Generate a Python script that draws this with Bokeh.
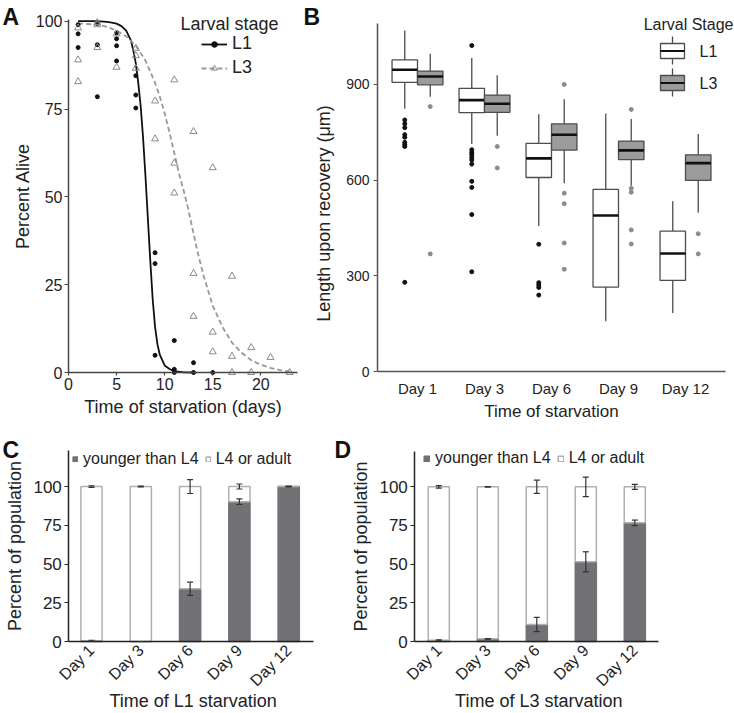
import math
from bokeh.plotting import figure
from bokeh.layouts import row, column
from bokeh.models import (Range1d, FixedTicker, Label, Legend, LegendItem,
                          ColumnDataSource, Whisker, TeeHead)
from bokeh.embed import file_html
from bokeh.resources import INLINE

FONT = "Liberation Sans"
TXT = "#222222"

# ---------------- Panel A: survival ----------------
surv_days_l1 = [1, 1, 1, 3, 3, 3, 5, 5, 5, 5, 7, 7, 7, 9, 9, 9, 11, 11, 11, 13, 13, 15]
surv_pct_l1 = [99.0, 96.4, 92.5, 99.4, 93.3, 78.5, 96.7, 95.0, 93.0, 88.7, 84.5, 79.0, 75.3,
               34.1, 31.0, 4.9, 9.1, 0.9, 0.0, 2.8, 0.0, 0.0]
surv_days_l3 = [1, 1, 1, 3, 3, 3, 5, 5, 7, 7, 7, 9, 9, 11, 11, 11, 13, 13, 13, 15, 15, 15,
                17, 17, 17, 19, 19, 21, 23]
surv_pct_l3 = [98.1, 89.0, 82.8, 99.6, 99.0, 92.5, 96.4, 86.9, 92.3, 90.2, 86.6, 77.3, 66.5,
               83.3, 59.6, 51.1, 68.6, 28.2, 16.0, 58.3, 11.5, 5.9, 27.4, 4.6, 0.0, 7.1, 0.0,
               4.3, 0.0]
fit_days_l1 = [1, 2, 3, 4, 4.5, 5, 5.5, 6, 6.5, 6.75, 7, 7.25, 7.5, 7.75, 8, 8.25, 8.5, 8.75,
               9, 9.25, 9.5, 10, 10.5, 11, 12, 13]
fit_pct_l1 = [100, 100, 100, 99.8, 99.6, 99.3, 98.6, 97.3, 94.5, 91.5, 88.0, 82.5, 76.0, 67.0,
              56.0, 44.0, 32.0, 21.0, 13.0, 8.0, 5.0, 2.0, 1.0, 0.4, 0.05, 0.0]
fit_days_l3 = [1, 2, 3, 4, 5, 6, 7, 8, 9, 9.5, 10, 10.5, 11, 11.5, 12, 12.5, 13, 13.5, 14, 15,
               16, 17, 18, 19, 20, 21, 22, 23]
fit_pct_l3 = [99.4, 99.2, 99.0, 98.4, 97.3, 95.7, 93.0, 88.8, 82.5, 78.5, 73.8, 68.3, 62.5,
              56.5, 51.5, 46.0, 39.5, 33.5, 28.0, 19.0, 13.0, 8.5, 5.6, 3.5, 2.2, 1.3, 0.7, 0.3]
a_xticks = [0, 5, 10, 15, 20]
a_yticks = [0, 25, 50, 75, 100]

# ---------------- Panel B: length boxplots ----------------
b_days = ["Day 1", "Day 3", "Day 6", "Day 9", "Day 12"]
l1_q1 = [906, 811, 608, 265, 286]
l1_med = [945, 850, 668, 489, 370]
l1_q3 = [976, 887, 715, 571, 440]
l1_lo = [823, 713, 456, 158, 184]
l1_hi = [1068, 982, 806, 808, 534]
l3_q1 = [898, 812, 694, 664, 599]
l3_med = [924, 839, 742, 693, 653]
l3_q3 = [941, 866, 776, 722, 679]
l3_lo = [861, 739, 590, 582, 498]
l3_hi = [995, 928, 853, 791, 744]
l1_out_day = ["Day 1"] * 9 + ["Day 3"] * 11 + ["Day 6"] * 5
l1_out_val = [788, 776, 764, 742, 734, 718, 711, 705, 280,
              1021, 695, 687, 680, 671, 663, 650, 596, 577, 492, 313,
              399, 279, 272, 264, 240]
l3_out_day = ["Day 1"] * 2 + ["Day 3"] * 2 + ["Day 6"] * 5 + ["Day 9"] * 5 + ["Day 12"] * 2
l3_out_val = [830, 369, 705, 638, 899, 559, 526, 403, 321, 821, 574, 562, 444, 400, 432, 369]
b_yticks = [0, 300, 600, 900]

# ---------------- Panels C, D: developmental stage ----------------
stage_days = ["Day 1", "Day 3", "Day 6", "Day 9", "Day 12"]
l1_younger = [0.5, 0.0, 34.0, 90.2, 100.0]
l1_younger_err = [0.3, 0.0, 4.3, 1.8, 0.0]
l1_adult = [99.5, 100.0, 66.0, 9.8, 0.0]
l1_adult_err = [0.5, 0.3, 4.5, 1.6, 0.3]
l3_younger = [0.8, 1.7, 11.0, 51.5, 76.7]
l3_younger_err = [0.3, 0.2, 4.6, 6.5, 1.8]
l3_adult = [99.2, 98.3, 89.0, 48.5, 23.3]
l3_adult_err = [0.8, 0.2, 4.3, 6.3, 1.6]
cd_yticks = [0, 25, 50, 75, 100]

GREY_BAR = "#727276"
L3_BOX = "#9b9b9b"
BOX_LINE = "#4d4d4d"


class PageMap:
    """Maps page pixel positions of one figure (whose frame fills the figure) to data units."""
    def __init__(self, fx, fy, w, h, xpage, xval, xppu, ypage, yval, yppu):
        self.fx, self.fy, self.w, self.h = fx, fy, w, h
        self.xpage, self.xval, self.xppu = xpage, xval, xppu
        self.ypage, self.yval, self.yppu = ypage, yval, yppu

    def x(self, px):
        return self.xval + (px - self.xpage) / self.xppu

    def y(self, py):
        return self.yval + (self.ypage - py) / self.yppu

    def xr(self):
        return Range1d(self.x(self.fx), self.x(self.fx + self.w))

    def yr(self):
        return Range1d(self.y(self.fy + self.h), self.y(self.fy))


def make_fig(m):
    p = figure(width=m.w, height=m.h, x_range=m.xr(), y_range=m.yr(), output_backend="svg",
               toolbar_location=None, min_border=0)
    p.grid.visible = False
    p.outline_line_color = None
    p.background_fill_color = "white"
    p.border_fill_color = "white"
    return p


def style(p, axis_color, tick_size, label_size):
    for ax in list(p.xaxis) + list(p.yaxis):
        ax.axis_line_color = axis_color
        ax.axis_line_width = 1.5
        ax.major_tick_line_color = axis_color
        ax.major_tick_line_width = 1.2
        ax.major_tick_in = 0
        ax.major_tick_out = 4
        ax.minor_tick_line_color = None
        ax.major_label_text_font = FONT
        ax.major_label_text_font_size = tick_size
        ax.major_label_text_color = TXT
        ax.axis_label_text_font = FONT
        ax.axis_label_text_font_size = label_size
        ax.axis_label_text_font_style = "normal"
        ax.axis_label_text_color = TXT


def text(p, m, s, px, py, size, align="left", baseline="middle", bold=False):
    p.add_layout(Label(x=m.x(px), y=m.y(py), text=s, text_font=FONT, text_font_size=size,
                       text_font_style="bold" if bold else "normal",
                       text_color="#111111" if bold else TXT,
                       text_align=align, text_baseline=baseline))


# ================= Panel A =================
ma = PageMap(0, 0, 300, 430, 68, 0, 9.617, 372, 0, 3.513)
pA = make_fig(ma)
style(pA, "#444444", "16px", "18px")
pA.xaxis.fixed_location = 0
pA.yaxis.fixed_location = 0
pA.xaxis.bounds = (0, 23.8)
pA.yaxis.bounds = (0, 100.5)
pA.xaxis.ticker = FixedTicker(ticks=a_xticks)
pA.yaxis.ticker = FixedTicker(ticks=a_yticks)
pA.xaxis.major_tick_out = 3
pA.xaxis.major_label_standoff = 2
pA.yaxis.major_label_standoff = 2
pA.xaxis.axis_label = "Time of starvation (days)"
pA.yaxis.axis_label = "Percent Alive"
pA.xaxis.axis_label_standoff = 4
pA.yaxis.axis_label_standoff = 0

l1_line = pA.line(fit_days_l1, fit_pct_l1, line_color="#111111", line_width=1.8)
l3_line = pA.line(fit_days_l3, fit_pct_l3, line_color="#999999", line_width=1.8, line_dash="5 3")
l1_pts = pA.scatter(surv_days_l1, surv_pct_l1, size=4, fill_color="#111111", line_color="#111111")
l3_pts = pA.scatter(surv_days_l3, surv_pct_l3, marker="triangle", size=7, fill_color=None,
                    line_color="#8a8a8a", line_width=1)
legA = Legend(items=[LegendItem(label="L1", renderers=[l1_line, l1_pts]),
                     LegendItem(label="L3", renderers=[l3_line, l3_pts])],
              location=(201, 352), glyph_width=26, glyph_height=14, label_height=20,
              spacing=3, label_standoff=5, padding=0, margin=0,
              label_text_font=FONT, label_text_font_size="18px", label_text_color=TXT,
              border_line_color=None, background_fill_alpha=0)
pA.add_layout(legA)
text(pA, ma, "Larval stage", 180, 23, "18px")
text(pA, ma, "A", 2, 3, "23px", baseline="top", bold=True)

# ================= Panel B =================
mb = PageMap(300, 0, 434, 430, 417, 0, 67.0, 371.3, 0, 0.31956)
pB = make_fig(mb)
style(pB, "#555555", "14px", "17px")
b_pos = list(range(len(b_days)))
pB.xaxis.fixed_location = 0
pB.yaxis.fixed_location = mb.x(377)
pB.xaxis.bounds = (mb.x(377), mb.x(725))
pB.yaxis.bounds = (0, 1090)
pB.xaxis.ticker = FixedTicker(ticks=b_pos)
pB.xaxis.major_label_overrides = {i: d for i, d in zip(b_pos, b_days)}
pB.xaxis.major_label_text_font_size = "15px"
pB.xaxis.major_tick_line_color = None
pB.xaxis.major_label_standoff = 4
pB.yaxis.ticker = FixedTicker(ticks=b_yticks)
pB.yaxis.major_label_standoff = 4
pB.xaxis.axis_label = "Time of starvation"
pB.xaxis.axis_label_standoff = 2
# y title placed where the reference shows it (slightly below the axis centre)
pB.yaxis.axis_label = None
pB.add_layout(Label(x=mb.x(323), y=mb.y(213), text="Length upon recovery (μm)",
                    text_font=FONT, text_font_size="18px", text_color=TXT,
                    text_align="center", text_baseline="middle", angle=math.pi / 2))

half = 0.19
bw = 0.38
for off, q1, med, q3, lo, hi, fill in ((-half, l1_q1, l1_med, l1_q3, l1_lo, l1_hi, "white"),
                                       (half, l3_q1, l3_med, l3_q3, l3_lo, l3_hi, L3_BOX)):
    xs = [i + off for i in b_pos]
    pB.segment(x0=xs, x1=xs, y0=q3, y1=hi, line_color=BOX_LINE, line_width=1.3)
    pB.segment(x0=xs, x1=xs, y0=q1, y1=lo, line_color=BOX_LINE, line_width=1.3)
    pB.vbar(x=xs, width=bw, bottom=q1, top=q3, fill_color=fill, line_color=BOX_LINE,
            line_width=1.3)
    pB.segment(x0=[x - bw / 2 for x in xs], x1=[x + bw / 2 for x in xs], y0=med, y1=med,
               line_color="#111111", line_width=2.6)

day_index = {d: i for i, d in enumerate(b_days)}
pB.scatter([day_index[d] - half for d in l1_out_day], l1_out_val, size=4,
           fill_color="#111111", line_color="#111111")
pB.scatter([day_index[d] + half for d in l3_out_day], l3_out_val, size=4,
           fill_color="#8c8c8c", line_color="#8c8c8c")

# legend of panel B (box icons), page positions
lg_l, lg_r, lg_c = mb.x(660), mb.x(684), mb.x(672)
pB.segment(x0=[lg_c] * 4, x1=[lg_c] * 4,
           y0=[mb.y(36), mb.y(58), mb.y(68), mb.y(90)],
           y1=[mb.y(43), mb.y(64), mb.y(75), mb.y(96)],
           line_color=BOX_LINE, line_width=1.3)
pB.quad(left=[lg_l] * 2, right=[lg_r] * 2, top=[mb.y(43), mb.y(75)],
        bottom=[mb.y(58), mb.y(90)], fill_color=["white", L3_BOX], line_color=BOX_LINE,
        line_width=1.3)
pB.segment(x0=[lg_l] * 2, x1=[lg_r] * 2, y0=[mb.y(50.5), mb.y(82.5)],
           y1=[mb.y(50.5), mb.y(82.5)], line_color="#111111", line_width=2.2)
text(pB, mb, "L1", 699, 50.5, "16px")
text(pB, mb, "L3", 699, 82.5, "16px")
text(pB, mb, "Larval Stage", 733, 23.5, "16px", align="right")
text(pB, mb, "B", 303, 3, "23px", baseline="top", bold=True)


# ================= Panels C and D =================
def stacked(m, younger, younger_err, adult, adult_err, xlabel, left_page, right_page,
            leg_loc, glyph):
    p = make_fig(m)
    style(p, "#222222", "17px", "18px")
    idx = list(range(len(stage_days)))
    p.xaxis.fixed_location = 0
    p.yaxis.fixed_location = m.x(left_page)
    p.xaxis.bounds = (m.x(left_page), m.x(right_page))
    p.yaxis.bounds = (0, 123)
    p.yaxis.ticker = FixedTicker(ticks=cd_yticks)
    p.yaxis.major_label_standoff = 3
    p.xaxis.ticker = FixedTicker(ticks=idx)
    p.xaxis.major_label_overrides = {i: d for i, d in zip(idx, stage_days)}
    p.xaxis.major_tick_line_color = None
    p.xaxis.major_label_orientation = math.pi / 4
    p.xaxis.major_label_text_font_size = "16px"
    p.xaxis.major_label_standoff = 2
    p.xaxis.axis_label = None
    p.yaxis.axis_label = "Percent of population"
    p.yaxis.axis_label_standoff = 5
    # x title placed as text below the rotated tick labels
    text(p, m, xlabel, (left_page + right_page) / 2 + 2, 700, "18px", align="center")
    src = ColumnDataSource(dict(x=idx, younger=younger, adult=adult))
    rs = p.vbar_stack(["younger", "adult"], x="x", width=0.43, source=src,
                      fill_color=[GREY_BAR, "white"], line_color=[GREY_BAR, "#b0b0b0"],
                      line_width=1.5)
    err = ColumnDataSource(dict(
        x=idx,
        y_up=[y + e for y, e in zip(younger, younger_err)],
        y_lo=[y - e for y, e in zip(younger, younger_err)],
        t_up=[y + a + e for y, a, e in zip(younger, adult, adult_err)],
        t_lo=[y + a - e for y, a, e in zip(younger, adult, adult_err)]))
    for up, lo in (("y_up", "y_lo"), ("t_up", "t_lo")):
        p.add_layout(Whisker(base="x", upper=up, lower=lo, source=err, dimension="height",
                             level="annotation", line_color="#333333", line_width=1.2,
                             upper_head=TeeHead(size=6, line_color="#333333", line_width=1.2),
                             lower_head=TeeHead(size=6, line_color="#333333", line_width=1.2)))
    leg = Legend(items=[LegendItem(label="younger than L4", renderers=[rs[0]]),
                        LegendItem(label="L4 or adult", renderers=[rs[1]])],
                 orientation="horizontal", location=leg_loc, glyph_width=glyph,
                 glyph_height=glyph, label_height=20, label_standoff=5, spacing=6,
                 padding=0, margin=0, label_text_font=FONT, label_text_font_size="16px",
                 label_text_color=TXT, border_line_color=None, background_fill_alpha=0)
    p.add_layout(leg)
    return p


mc = PageMap(0, 430, 330, 283, 91, 0, 49.3, 641, 0, 1.55)
pC = stacked(mc, l1_younger, l1_younger_err, l1_adult, l1_adult_err,
             "Time of L1 starvation", 68.3, 313, (72, 244), 6)
text(pC, mc, "C", 2, 436, "23px", baseline="top", bold=True)
md = PageMap(330, 430, 404, 283, 438.3, 0, 49.0, 641, 0, 1.547)
pD = stacked(md, l3_younger, l3_younger_err, l3_adult, l3_adult_err,
             "Time of L3 starvation", 414.3, 658.3, (93, 245), 7)
text(pD, md, "D", 334, 436, "23px", baseline="top", bold=True)

layout = column(row(pA, pB), row(pC, pD))
open("out.html", "w").write(file_html(layout, INLINE))
